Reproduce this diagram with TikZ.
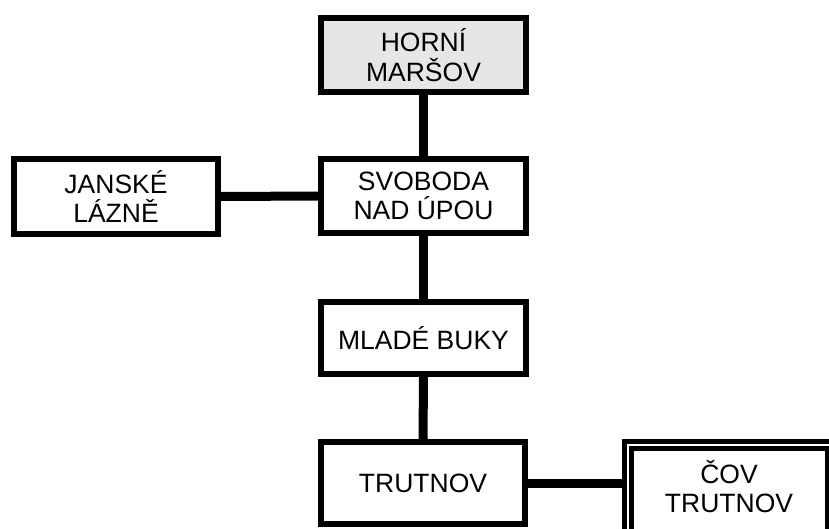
\documentclass[tikz,border=0pt]{standalone}
\usepackage{fontspec}
\setmainfont{Liberation Sans}
\definecolor{startfill}{HTML}{E6E6E6}
\tikzset{
  place/.style={draw=black, line width=5.5pt, fill=white, align=center,
    inner sep=0pt, minimum width=205pt, minimum height=74pt,
    font=\fontsize{26.5}{29.5}\selectfont},
  start/.style={place, fill=startfill},
  endframe/.style={draw=black, line width=4.5pt, double=white,
    double distance=2.5pt, inner sep=0pt, minimum width=203pt,
    minimum height=95pt},
  lbl/.style={align=center, inner sep=0pt, font=\fontsize{26.5}{29.5}\selectfont},
  link/.style={draw=black, line width=9pt}
}
\begin{document}
\begin{tikzpicture}[x=1pt, y=-1pt]
  \clip (0,0) rectangle (829,528);
  \fill[white] (0,0) rectangle (829,528);

  % stations along the main line
  \node[start] (horni) at (423.5,55) {HORNÍ\\MARŠOV};
  \node[place] (svoboda) at (423.5,196) {SVOBODA\\NAD ÚPOU};
  \node[place, minimum height=72pt] (mlade) at (423.5,338) {MLADÉ BUKY};
  \node[place, minimum width=204pt, minimum height=82pt] (trutnov) at (423,483) {TRUTNOV};

  % side branch
  \node[place, minimum width=204pt, minimum height=75pt] (janske) at (116,196.5) {JANSKÉ\\LÁZNĚ};

  % treatment plant with double frame
  \node[endframe] (cov) at (729.25,492.3) {};
  \node[lbl] (covtext) at (729,486.5) {ČOV\\TRUTNOV};

  % connections
  \draw[link] (horni.south) -- (svoboda.north);
  \draw[link] (svoboda.south) -- (mlade.north);
  \draw[link] (mlade.south) -- (trutnov.north);
  \draw[link] (janske.east) -- (svoboda.west);
  \draw[link] (trutnov.east) -- (trutnov.east -| cov.west);
\end{tikzpicture}
\end{document}
